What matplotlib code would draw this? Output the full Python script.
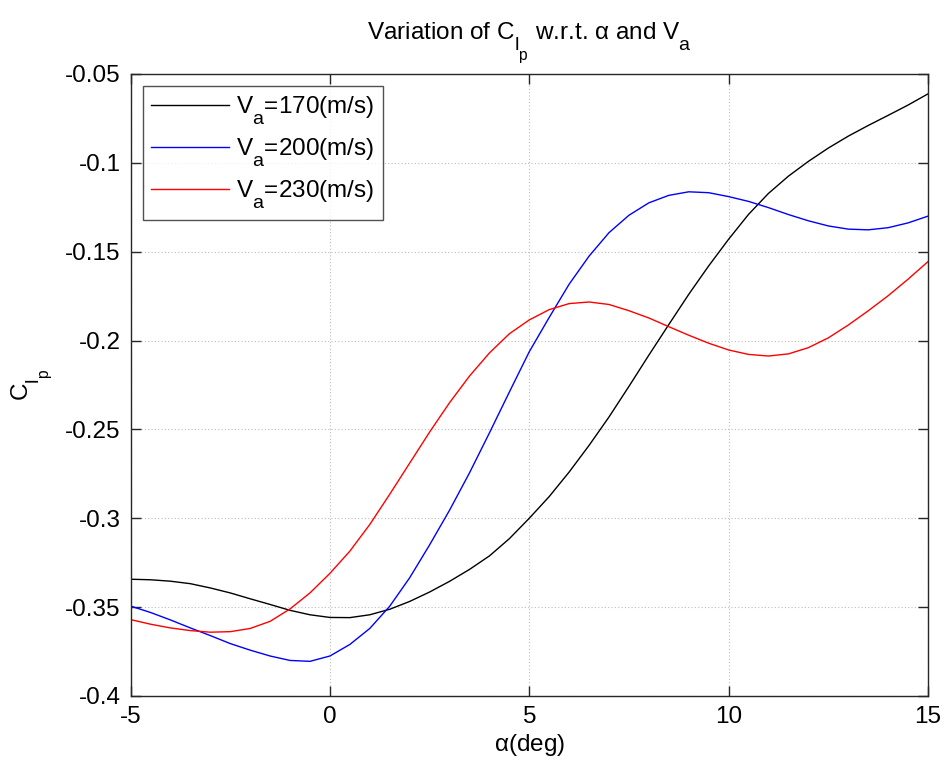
import matplotlib
matplotlib.use("Agg")
import matplotlib.pyplot as plt
import matplotlib._mathtext as mt

plt.rcParams['font.family'] = ['Liberation Sans', 'DejaVu Sans']
plt.rcParams['mathtext.fontset'] = 'custom'
plt.rcParams['mathtext.rm'] = 'Liberation Sans'
plt.rcParams['mathtext.it'] = 'Liberation Sans'
plt.rcParams['mathtext.bf'] = 'Liberation Sans:bold'
# MATLAB-like lower, slightly larger subscripts
mt.FontConstantsBase.sub1 = 0.9
mt.FontConstantsBase.subdrop = 0.6
mt.SHRINK_FACTOR = 0.8

alpha_deg = [-5, -4.5, -4, -3.5, -3, -2.5, -2, -1.5, -1, -0.5, 0, 0.5, 1, 1.5, 2, 2.5,
             3, 3.5, 4, 4.5, 5, 5.5, 6, 6.5, 7, 7.5, 8, 8.5, 9, 9.5, 10, 10.5, 11, 11.5,
             12, 12.5, 13, 13.5, 14, 14.5, 15]

clp_170 = [-0.3343, -0.3346, -0.3354, -0.3368, -0.3392, -0.3420, -0.3453, -0.3485, -0.3518, -0.3543,
           -0.3558, -0.3559, -0.3543, -0.3512, -0.3468, -0.3415, -0.3355, -0.3288, -0.3212, -0.3115,
           -0.3000, -0.2878, -0.2740, -0.2590, -0.2430, -0.2258, -0.2082, -0.1910, -0.1740, -0.1580,
           -0.1430, -0.1290, -0.1172, -0.1075, -0.0992, -0.0917, -0.0850, -0.0790, -0.0733, -0.0675,
           -0.0612]

clp_200 = [-0.3494, -0.3530, -0.3572, -0.3617, -0.3660, -0.3705, -0.3742, -0.3775, -0.3800, -0.3805,
           -0.3775, -0.3710, -0.3620, -0.3495, -0.3335, -0.3150, -0.2955, -0.2745, -0.2520, -0.2290,
           -0.2063, -0.1870, -0.1683, -0.1525, -0.1393, -0.1295, -0.1225, -0.1183, -0.1163, -0.1168,
           -0.1190, -0.1217, -0.1252, -0.1291, -0.1326, -0.1355, -0.1373, -0.1377, -0.1365, -0.1338,
           -0.1300]

clp_230 = [-0.3570, -0.3596, -0.3617, -0.3632, -0.3641, -0.3638, -0.3620, -0.3580, -0.3510, -0.3420,
           -0.3310, -0.3185, -0.3035, -0.2865, -0.2690, -0.2515, -0.2350, -0.2200, -0.2070, -0.1962,
           -0.1884, -0.1826, -0.1792, -0.1783, -0.1797, -0.1832, -0.1873, -0.1922, -0.1970, -0.2015,
           -0.2053, -0.2078, -0.2087, -0.2075, -0.2040, -0.1985, -0.1913, -0.1833, -0.1748, -0.1655,
           -0.1556]

labels = [r'$\mathregular{V_a}$=170(m/s)', r'$\mathregular{V_a}$=200(m/s)', r'$\mathregular{V_a}$=230(m/s)']
colors = ['black', '#0000ff', '#ff0000']

x_ticks = [-5, 0, 5, 10, 15]
y_ticks = [-0.4, -0.35, -0.3, -0.25, -0.2, -0.15, -0.1, -0.05]
y_ticklabels = ['-0.4', '-0.35', '-0.3', '-0.25', '-0.2', '-0.15', '-0.1', '-0.05']

FS = 17.5

fig = plt.figure(figsize=(9.44, 7.65), dpi=100)
ax = fig.add_axes([0.1383, 0.0902, 0.8447, 0.8131])

for y, lab, c in zip([clp_170, clp_200, clp_230], labels, colors):
    ax.plot(alpha_deg, y, color=c, lw=1.0, label=lab)

ax.set_xlim(-5, 15)
ax.set_ylim(-0.4, -0.05)
ax.set_xticks(x_ticks)
ax.set_xticklabels([str(t) for t in x_ticks])
ax.set_yticks(y_ticks)
ax.set_yticklabels(y_ticklabels)
ax.tick_params(direction='in', length=7, width=1, top=True, right=True,
               labelsize=FS, pad=7, colors='#262626', labelcolor='black')
ax.grid(True, linestyle=(0, (1, 2)), color='#bdbdbd', lw=0.8)
for s in ax.spines.values():
    s.set_color('#262626')
    s.set_linewidth(1.0)

ax.set_title(r'Variation of $\mathregular{C_{l_p}}$ w.r.t. $\alpha$ and $\mathregular{V_a}$',
             fontsize=FS, pad=25)
ax.set_xlabel(r'$\alpha$(deg)', fontsize=FS, labelpad=3)
ax.set_ylabel(r'$\mathregular{C_{l_p}}$', fontsize=FS, labelpad=8)

leg = ax.legend(loc='upper left', fontsize=FS, handlelength=3.2, frameon=True, fancybox=False,
                borderaxespad=0.5, handletextpad=0.3, labelspacing=0.38, borderpad=0.35)
leg.get_frame().set_edgecolor('#262626')
leg.get_frame().set_linewidth(1.0)

fig.savefig('out.png', dpi=100)
